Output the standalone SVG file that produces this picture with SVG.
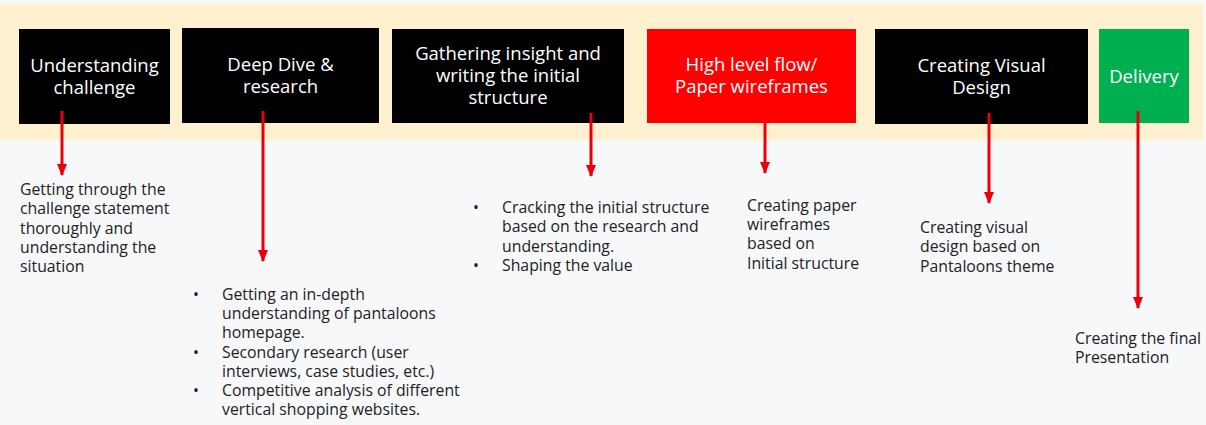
<svg xmlns="http://www.w3.org/2000/svg" width="1206" height="425" viewBox="0 0 1206 425">
<defs>
<style>
.box{stroke:none}
.bt{font-family:"Open Sans","Liberation Sans",sans-serif;font-size:18.5px;font-weight:500;fill:#fff;text-anchor:middle}
.d{font-family:"Open Sans","Liberation Sans",sans-serif;font-size:15.8px;fill:#222}
.c{stroke:#e8000b;stroke-width:3;fill:none;marker-end:url(#ah)}
</style>
<marker id="ah" viewBox="0 0 12 10" refX="11" refY="5" markerWidth="12" markerHeight="10" markerUnits="userSpaceOnUse" orient="auto">
<path d="M0,0 L12,5 L0,10 Z" fill="#e8000b"/>
</marker>
</defs>
<rect x="0" y="0" width="1206" height="425" fill="#f7f8fa"/>
<rect x="0" y="4" width="1203" height="136" fill="#fff1cf"/>
<g id="n1"><rect class="box" x="19" y="29" width="151" height="95" fill="#000"/>
<text class="bt" x="94.5" y="72">Understanding</text><text class="bt" x="94.5" y="94">challenge</text></g>
<g id="n2"><rect class="box" x="182" y="28" width="197" height="95" fill="#000"/>
<text class="bt" x="280.5" y="71">Deep Dive &amp;</text><text class="bt" x="280.5" y="93">research</text></g>
<g id="n3"><rect class="box" x="392" y="29" width="232" height="94" fill="#000"/>
<text class="bt" x="508" y="60">Gathering insight and</text><text class="bt" x="508" y="82">writing the initial</text><text class="bt" x="508" y="104">structure</text></g>
<g id="n4"><rect class="box" x="647" y="29" width="209" height="94" fill="#ff0000"/>
<text class="bt" x="751.5" y="71">High level flow/</text><text class="bt" x="751.5" y="93">Paper wireframes</text></g>
<g id="n5"><rect class="box" x="875" y="29" width="213" height="95" fill="#000"/>
<text class="bt" x="981.5" y="72">Creating Visual</text><text class="bt" x="981.5" y="94">Design</text></g>
<g id="n6"><rect class="box" x="1099" y="29" width="90" height="94" fill="#00b050"/>
<text class="bt" x="1144" y="83">Delivery</text></g>
<g id="connectors">
<line class="c" x1="62" y1="111" x2="62" y2="175"/>
<line class="c" x1="263" y1="111" x2="263" y2="261"/>
<line class="c" x1="591" y1="113" x2="591" y2="176"/>
<line class="c" x1="765" y1="123" x2="765" y2="173"/>
<line class="c" x1="989" y1="113" x2="989" y2="203"/>
<line class="c" x1="1138" y1="111" x2="1138" y2="308"/>
</g>
<g id="t1" class="d">
<text x="20" y="195">Getting through the</text>
<text x="20" y="214">challenge statement</text>
<text x="20" y="234">thoroughly and</text>
<text x="20" y="253">understanding the</text>
<text x="20" y="272">situation</text>
</g>
<g id="t2" class="d">
<text x="193" y="300">•</text><text x="222" y="300">Getting an in-depth</text>
<text x="222" y="319">understanding of pantaloons</text>
<text x="222" y="338">homepage.</text>
<text x="193" y="358">•</text><text x="222" y="358">Secondary research (user</text>
<text x="222" y="377">interviews, case studies, etc.)</text>
<text x="193" y="396">•</text><text x="222" y="396">Competitive analysis of different</text>
<text x="222" y="415">vertical shopping websites.</text>
</g>
<g id="t3" class="d">
<text x="473" y="213">•</text><text x="502" y="213">Cracking the initial structure</text>
<text x="502" y="232">based on the research and</text>
<text x="502" y="252">understanding.</text>
<text x="473" y="271">•</text><text x="502" y="271">Shaping the value</text>
</g>
<g id="t4" class="d">
<text x="747" y="211">Creating paper</text>
<text x="747" y="230">wireframes</text>
<text x="747" y="249">based on</text>
<text x="747" y="269">Initial structure</text>
</g>
<g id="t5" class="d">
<text x="920" y="233">Creating visual</text>
<text x="920" y="252">design based on</text>
<text x="920" y="272">Pantaloons theme</text>
</g>
<g id="t6" class="d">
<text x="1075" y="344">Creating the final</text>
<text x="1075" y="363">Presentation</text>
</g>
</svg>
